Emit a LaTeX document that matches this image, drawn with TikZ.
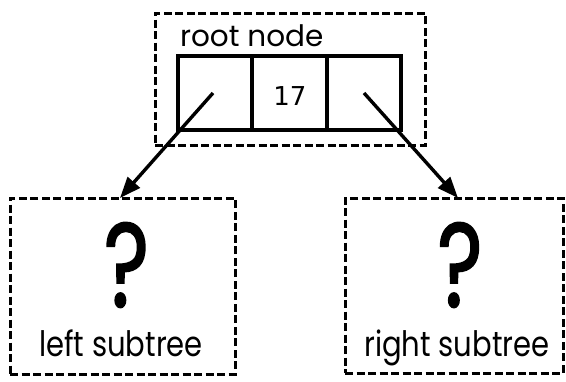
\documentclass[tikz,border=0pt]{standalone}
\usepackage{fontspec}
\setmainfont{Poppins}
\newfontfamily\narrowfont[FakeStretch=0.83]{Poppins}
\newfontfamily\qfont[FakeStretch=0.72,FakeBold=1.2]{Poppins}
\newfontfamily\digitfont{DejaVu Sans}
\usetikzlibrary{arrows.meta}
\begin{document}
\begin{tikzpicture}[x=1pt,y=-1pt,
  dashbox/.style={draw, line width=3pt, dash pattern=on 8pt off 3.5pt, inner sep=0pt, outer sep=0pt},
  cell/.style={draw, line width=3.6pt, minimum width=74.5pt, minimum height=74pt, inner sep=0pt, outer sep=0pt},
  ptr/.style={line width=3.4pt, -{Triangle[length=21pt,width=16pt]}},
  lbl/.style={inner sep=0pt, outer sep=0pt}]
\useasboundingbox (0,0) rectangle (566,381);
\node[dashbox, minimum width=270pt, minimum height=132pt] (rootbox) at (290,79) {};
\node[cell] (cellL) at (215,93) {};
\node[cell] (cellM) at (289.5,93) {};
\node[cell] (cellR) at (364,93) {};
\node[lbl, anchor=base west, font=\fontsize{29.5}{29.5}\selectfont] (rootlbl) at (180,46) {root node};
\node[lbl, anchor=base, font=\digitfont\fontsize{26}{26}\selectfont] (val) at (290,105) {17};
\node[dashbox, minimum width=225pt, minimum height=176pt] (leftbox) at (122.5,286) {};
\node[dashbox, minimum width=218pt, minimum height=175pt] (rightbox) at (454,285.5) {};
\node[lbl, anchor=base, text depth=0pt, font=\qfont\fontsize{120}{120}\selectfont] (qL) at (126.5,307) {?};
\node[lbl, anchor=base, text depth=0pt, font=\qfont\fontsize{120}{120}\selectfont] (qR) at (460,307) {?};
\node[lbl, anchor=base, font=\narrowfont\fontsize{35}{35}\selectfont] (ltxt) at (121,356) {left subtree};
\node[lbl, anchor=base, font=\narrowfont\fontsize{35}{35}\selectfont] (rtxt) at (457,356) {right subtree};
\coordinate (pL) at (213,93);
\coordinate (pR) at (364,93);
\draw[ptr] (pL) -- (leftbox.north -| 120,0);
\draw[ptr] (pR) -- (rightbox.north -| 458,0);
\end{tikzpicture}
\end{document}
